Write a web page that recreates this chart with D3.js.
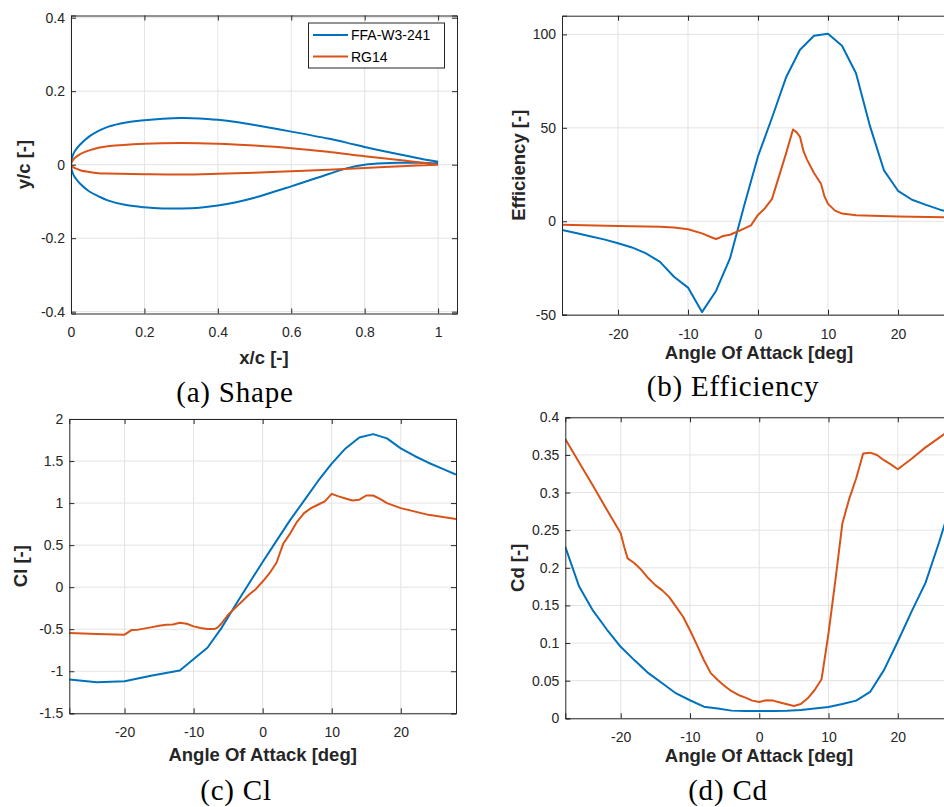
<!DOCTYPE html>
<html>
<head>
<meta charset="utf-8">
<script src="https://cdn.jsdelivr.net/npm/d3@7"></script>
<style>
  body { margin: 0; background: #fff; }
  svg { display: block; }
</style>
</head>
<body>
<div id="chart"></div>
<script>
var width  = 944;
var height = 807;

var blue   = '#0072BD';
var orange = '#D95319';

// airfoil shape (x/c, upper y/c, lower y/c)
var ffaX     = [0, 0.005, 0.0125, 0.025, 0.05, 0.075, 0.1, 0.15, 0.2, 0.25, 0.3, 0.35, 0.4, 0.45, 0.5, 0.6, 0.7, 0.75, 0.8, 0.85, 0.9, 0.95, 1];
var ffaUpper = [0, 0.026, 0.040, 0.055, 0.077, 0.092, 0.103, 0.115, 0.121, 0.125, 0.127, 0.126, 0.122, 0.116, 0.108, 0.090, 0.071, 0.060, 0.048, 0.037, 0.027, 0.017, 0.008];
var ffaLower = [0, -0.024, -0.037, -0.052, -0.073, -0.086, -0.097, -0.110, -0.116, -0.119, -0.119, -0.117, -0.111, -0.102, -0.090, -0.059, -0.026, -0.010, 0, 0.004, 0.005, 0.005, 0.003];

var rgX      = [0, 0.005, 0.0125, 0.025, 0.05, 0.075, 0.1, 0.2, 0.3, 0.4, 0.5, 0.6, 0.7, 0.8, 0.9, 1];
var rgUpper  = [0, 0.012, 0.020, 0.029, 0.039, 0.046, 0.050, 0.057, 0.059, 0.057, 0.052, 0.045, 0.035, 0.023, 0.012, 0];
var rgLower  = [0, -0.006, -0.010, -0.015, -0.020, -0.023, -0.024, -0.026, -0.027, -0.025, -0.022, -0.018, -0.014, -0.009, -0.004, 0];

// efficiency
var effFfaAoa = [-28, -26, -24, -22, -20, -18, -16, -14, -12, -10, -8, -6, -4, -2, 0, 2, 4, 6, 8, 10, 12, 14, 16, 18, 20, 22, 24, 26, 28];
var effFfa    = [-4.7, -6.3, -8, -9.7, -11.8, -14, -17.2, -21.7, -29.7, -35.5, -48.6, -37.3, -19.9, 8, 34.8, 55.4, 76.9, 91.8, 99.3, 100.4, 93.9, 79.2, 50.9, 27.2, 16.3, 11.5, 8.8, 6.2, 4.3];

var effRgAoa = [-28, -20, -14, -12, -10, -8, -6.5, -6, -5.5, -5, -4, -3, -2, -1, 0, 1, 2, 3, 4, 5, 5.5, 6, 6.5, 7, 8, 9, 9.5, 10, 11, 12, 14, 20, 28];
var effRg    = [-1.8, -2.5, -3.0, -3.4, -4.3, -6.5, -8.8, -9.5, -8.8, -7.9, -7.2, -5.6, -3.9, -2.2, 3.4, 7, 12, 24, 36.2, 49.1, 47.7, 45.2, 37.5, 33, 25.8, 20.1, 13.3, 9.3, 5.7, 4.1, 3.2, 2.5, 2.0];

// lift coefficient
var clFfaAoa = [-28, -24, -20, -16, -12, -8, -6, -4, -2, 0, 2, 4, 6, 8, 10, 12, 14, 16, 18, 20, 22, 24, 26, 28];
var clFfa    = [-1.099, -1.13, -1.12, -1.05, -0.99, -0.72, -0.49, -0.22, 0.04, 0.30, 0.55, 0.80, 1.03, 1.26, 1.47, 1.65, 1.78, 1.82, 1.77, 1.65, 1.56, 1.48, 1.41, 1.34];

var clRgAoa = [-28, -24, -20, -19, -18, -17, -16, -15, -14, -13, -12, -11, -10, -9, -8, -7, -6.5, -6, -5, -4, -3, -2, -1, 0, 1, 2, 3, 4, 5, 6, 7, 8, 9, 10, 11, 12, 13, 14, 15, 16, 17, 18, 20, 24, 28];
var clRg    = [-0.545, -0.557, -0.565, -0.51, -0.505, -0.49, -0.475, -0.46, -0.447, -0.443, -0.423, -0.435, -0.466, -0.486, -0.498, -0.498, -0.478, -0.435, -0.328, -0.249, -0.17, -0.09, -0.024, 0.067, 0.166, 0.29, 0.52, 0.64, 0.78, 0.88, 0.94, 0.98, 1.02, 1.11, 1.08, 1.055, 1.03, 1.04, 1.09, 1.09, 1.05, 1.00, 0.94, 0.86, 0.81];

// drag coefficient
var cdFfaAoa = [-28, -26, -24, -22, -20, -18, -16, -14, -12, -10, -8, -6, -4, -2, 0, 2, 4, 6, 8, 10, 12, 14, 16, 18, 20, 22, 24, 26, 28];
var cdFfa    = [0.228, 0.175, 0.143, 0.118, 0.095, 0.077, 0.060, 0.0465, 0.033, 0.024, 0.0155, 0.013, 0.0102, 0.0097, 0.0097, 0.0097, 0.010, 0.011, 0.013, 0.015, 0.019, 0.0235, 0.035, 0.064, 0.102, 0.142, 0.180, 0.235, 0.295];

var cdRgAoa = [-28, -26, -24, -22, -20, -19.5, -19, -18, -17, -16, -15, -14, -13, -12, -11, -10, -9, -8, -7, -6, -5, -4, -3, -2, -1, 0, 1, 2, 3, 4, 5, 6, 7, 8, 9, 10, 11, 12, 13, 14, 15, 16, 17, 18, 19, 20, 22, 24, 26, 28];
var cdRg    = [0.371, 0.340, 0.309, 0.277, 0.246, 0.228, 0.2125, 0.206, 0.197, 0.186, 0.177, 0.170, 0.161, 0.148, 0.135, 0.117, 0.0975, 0.0775, 0.060, 0.051, 0.043, 0.036, 0.031, 0.0275, 0.0235, 0.0217, 0.024, 0.0235, 0.021, 0.0186, 0.0164, 0.019, 0.0266, 0.0376, 0.052, 0.113, 0.184, 0.259, 0.292, 0.319, 0.352, 0.353, 0.350, 0.343, 0.3375, 0.331, 0.345, 0.360, 0.373, 0.386];

var aoaTicks = [-20, -10, 0, 10, 20];

var svg = d3.select("#chart")
    .append("svg")
    .attr("width", width)
    .attr("height", height);

var panelCount = 0;

function zip(xs, ys) {
  return xs.map(function(x, i) { return [x, ys[i]]; });
}

function drawPanel(opt) {
  var id = 'clip' + (panelCount++);
  var x = d3.scaleLinear().domain(opt.xDomain).range([opt.left, opt.right]);
  var y = d3.scaleLinear().domain(opt.yDomain).range([opt.bottom, opt.top]);
  var g = svg.append('g');

  g.append('clipPath').attr('id', id)
    .append('rect')
    .attr('x', opt.left).attr('y', opt.top)
    .attr('width', opt.right - opt.left).attr('height', opt.bottom - opt.top);

  // grid
  g.selectAll('.gx').data(opt.xTicks).enter().append('line')
    .attr('x1', x).attr('x2', x)
    .attr('y1', opt.top).attr('y2', opt.bottom)
    .attr('stroke', '#e3e3e3').attr('stroke-width', 1);
  g.selectAll('.gy').data(opt.yTicks).enter().append('line')
    .attr('y1', y).attr('y2', y)
    .attr('x1', opt.left).attr('x2', opt.right)
    .attr('stroke', '#e3e3e3').attr('stroke-width', 1);

  // lines
  var line = d3.line()
    .x(function(d) { return x(d[0]); })
    .y(function(d) { return y(d[1]); })
    .curve(opt.curve || d3.curveLinear);

  var lg = g.append('g').attr('clip-path', 'url(#' + id + ')');
  opt.series.forEach(function(s) {
    lg.append('path')
      .attr('d', line(s.points))
      .attr('fill', 'none')
      .attr('stroke', s.color)
      .attr('stroke-width', 2)
      .attr('stroke-linejoin', 'round');
  });

  // axes (ticks inward, box on)
  var tl = 5;
  var fmt = opt.fmt || function(d) { return d; };
  g.append('g')
    .attr('transform', 'translate(0,' + opt.bottom + ')')
    .call(d3.axisBottom(x).tickValues(opt.xTicks).tickSize(-tl).tickPadding(14).tickFormat(fmt))
    .call(styleAxis);
  g.append('g')
    .attr('transform', 'translate(0,' + opt.top + ')')
    .call(d3.axisTop(x).tickValues(opt.xTicks).tickSize(-tl).tickFormat(''))
    .call(styleAxis);
  g.append('g')
    .attr('transform', 'translate(' + opt.left + ',0)')
    .call(d3.axisLeft(y).tickValues(opt.yTicks).tickSize(-tl).tickPadding(6).tickFormat(fmt))
    .call(styleAxis);
  g.append('g')
    .attr('transform', 'translate(' + opt.right + ',0)')
    .call(d3.axisRight(y).tickValues(opt.yTicks).tickSize(-tl).tickFormat(''))
    .call(styleAxis);

  // labels
  var cx = (opt.left + opt.right) / 2;
  if (opt.xLabelCx) cx = opt.xLabelCx;
  g.append('text')
    .attr('x', cx).attr('y', opt.xLabelY)
    .attr('text-anchor', 'middle')
    .attr('font-family', 'Liberation Sans, Arial, sans-serif')
    .attr('font-weight', 'bold').attr('font-size', 18.5)
    .attr('fill', '#262626')
    .text(opt.xLabel);
  g.append('text')
    .attr('transform', 'translate(' + opt.yLabelX + ',' + (opt.top + opt.bottom) / 2 + ') rotate(-90)')
    .attr('text-anchor', 'middle')
    .attr('font-family', 'Liberation Sans, Arial, sans-serif')
    .attr('font-weight', 'bold').attr('font-size', 18.5)
    .attr('fill', '#262626')
    .text(opt.yLabel);

  g.append('text')
    .attr('x', opt.captionX).attr('y', opt.captionY)
    .attr('text-anchor', 'middle')
    .attr('font-family', 'Liberation Serif, Times New Roman, serif')
    .attr('font-size', 29)
    .attr('letter-spacing', 0.8)
    .attr('fill', '#000')
    .text(opt.caption);

  return { x: x, y: y, g: g };
}

function styleAxis(sel) {
  sel.select('.domain').attr('stroke', '#262626').attr('stroke-width', 1);
  sel.selectAll('.tick line').attr('stroke', '#262626');
  sel.selectAll('.tick text')
    .attr('font-family', 'Liberation Sans, Arial, sans-serif')
    .attr('font-size', 14)
    .attr('fill', '#262626');
}

function airfoil(xs, up, lo) {
  var pts = [];
  for (var i = xs.length - 1; i >= 0; i--) pts.push([xs[i], up[i]]);
  for (var j = 1; j < xs.length; j++) pts.push([xs[j], lo[j]]);
  return pts;
}

// (a) shape
drawPanel({
  left: 71, right: 457, top: 15.5, bottom: 313.5,
  xDomain: [0, 1.0515], yDomain: [-0.405, 0.406],
  xTicks: [0, 0.2, 0.4, 0.6, 0.8, 1],
  yTicks: [-0.4, -0.2, 0, 0.2, 0.4],
  curve: d3.curveCatmullRom,
  series: [
    { color: blue, points: airfoil(ffaX, ffaUpper, ffaLower) },
    { color: orange, points: airfoil(rgX, rgUpper, rgLower) }
  ],
  xLabel: 'x/c [-]', xLabelY: 364, yLabel: 'y/c [-]', yLabelX: 30,
  caption: '(a) Shape', captionX: 235, captionY: 402
});

// legend
var legendNames = ['FFA-W3-241', 'RG14'];
var legendColors = [blue, orange];
var lgd = svg.append('g');
lgd.append('rect')
  .attr('x', 308.5).attr('y', 23).attr('width', 136).attr('height', 45)
  .attr('fill', '#fff').attr('stroke', '#262626').attr('stroke-width', 1);
legendNames.forEach(function(n, i) {
  var yy = 35 + i * 21.5;
  lgd.append('line')
    .attr('x1', 313).attr('x2', 348).attr('y1', yy).attr('y2', yy)
    .attr('stroke', legendColors[i]).attr('stroke-width', 2);
  lgd.append('text')
    .attr('x', 351).attr('y', yy + 5)
    .attr('font-family', 'Liberation Sans, Arial, sans-serif')
    .attr('font-size', 14)
    .attr('fill', '#000')
    .text(n);
});

// (b) efficiency
drawPanel({
  left: 562, right: 954, top: 15.7, bottom: 314.7,
  xDomain: [-28, 28], yDomain: [-50, 110],
  xTicks: aoaTicks, yTicks: [-50, 0, 50, 100],
  series: [
    { color: blue, points: zip(effFfaAoa, effFfa) },
    { color: orange, points: zip(effRgAoa, effRg) }
  ],
  xLabel: 'Angle Of Attack [deg]', xLabelCx: 759, xLabelY: 359,
  yLabel: 'Efficiency [-]', yLabelX: 525,
  caption: '(b) Efficiency', captionX: 733, captionY: 396
});

// (c) Cl
drawPanel({
  left: 69.3, right: 456, top: 419, bottom: 713.3,
  xDomain: [-28, 28], yDomain: [-1.5, 2],
  xTicks: aoaTicks, yTicks: [-1.5, -1, -0.5, 0, 0.5, 1, 1.5, 2],
  series: [
    { color: blue, points: zip(clFfaAoa, clFfa) },
    { color: orange, points: zip(clRgAoa, clRg) }
  ],
  xLabel: 'Angle Of Attack [deg]', xLabelY: 760.5,
  yLabel: 'Cl [-]', yLabelX: 27,
  caption: '(c) Cl', captionX: 236, captionY: 800
});

// (d) Cd
drawPanel({
  left: 565.3, right: 953.2, top: 417.3, bottom: 718.3,
  xDomain: [-28, 28], yDomain: [0, 0.4],
  xTicks: aoaTicks, yTicks: [0, 0.05, 0.1, 0.15, 0.2, 0.25, 0.3, 0.35, 0.4],
  series: [
    { color: blue, points: zip(cdFfaAoa, cdFfa) },
    { color: orange, points: zip(cdRgAoa, cdRg) }
  ],
  xLabel: 'Angle Of Attack [deg]', xLabelCx: 759, xLabelY: 762,
  yLabel: 'Cd [-]', yLabelX: 524,
  caption: '(d) Cd', captionX: 728, captionY: 800
});
</script>
</body>
</html>
